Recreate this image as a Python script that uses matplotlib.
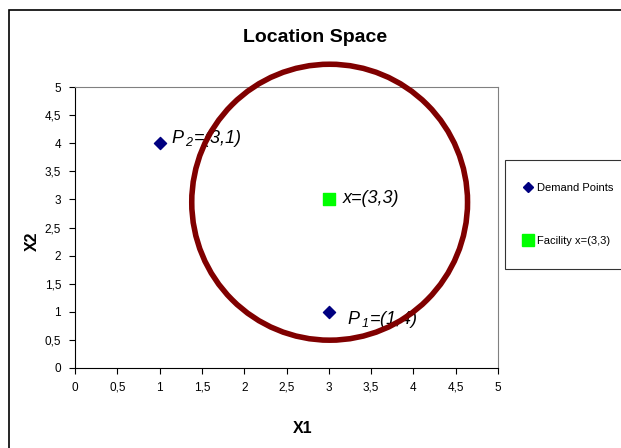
import matplotlib
matplotlib.use('Agg')
import matplotlib.pyplot as plt
from matplotlib.patches import Ellipse, Rectangle
from matplotlib.lines import Line2D

plt.rcParams['font.family'] = ['Liberation Sans', 'DejaVu Sans']
plt.rcParams['mathtext.fontset'] = 'custom'
plt.rcParams['mathtext.it'] = 'Liberation Sans:italic'
plt.rcParams['mathtext.rm'] = 'Liberation Sans:italic'
plt.rcParams['mathtext.default'] = 'it'

# demand points and facility
demand_x = [3, 1]
demand_y = [1, 4]
demand_labels = [r'$P_{\;1}$=(1,4)', r'$P_{\;2}$=(3,1)']
facility_x = [3]
facility_y = [3]
facility_label = 'x=(3,3)'
ticks = [0, 0.5, 1, 1.5, 2, 2.5, 3, 3.5, 4, 4.5, 5]
tick_labels = ['0', '0,5', '1', '1,5', '2', '2,5', '3', '3,5', '4', '4,5', '5']

fig = plt.figure(figsize=(6.21, 4.48), dpi=100)
fig.patch.set_facecolor('white')

# outer chart frame
fig.patches.append(Rectangle((9 / 621, -0.1), 1.2, 1 - 10 / 448 + 0.1,
                             transform=fig.transFigure, fill=False,
                             edgecolor='black', linewidth=1.2))

ax = fig.add_axes([75 / 621, 1 - 368 / 448, 423 / 621, 281 / 448])
ax.set_xlim(0, 5)
ax.set_ylim(0, 5)
ax.set_xticks(ticks)
ax.set_xticklabels(tick_labels)
ax.set_yticks(ticks)
ax.set_yticklabels(tick_labels)
ax.tick_params(direction='out', length=4, width=0.8, labelsize=8.5, pad=6)
for s in ['top', 'right']:
    ax.spines[s].set_color('#808080')
for s in ['left', 'bottom']:
    ax.spines[s].set_color('black')

ax.scatter(demand_x, demand_y, marker='D', s=38, color='#000080', zorder=3)
ax.scatter(facility_x, facility_y, marker='s', s=75, color='#00FF00', zorder=3)

# circle around the facility (round on screen)
circ = Ellipse((3.01, 2.95), 3.26, 4.91, fill=False, edgecolor='#800000',
               linewidth=4, clip_on=False, zorder=4)
ax.add_patch(circ)

ax.text(3.22, 0.86, demand_labels[0], fontsize=13, style='italic', va='center', zorder=3)
ax.text(1.14, 4.08, demand_labels[1], fontsize=13, style='italic', va='center', zorder=3)
ax.text(3.16, 3.02, facility_label, fontsize=13, style='italic', va='center', zorder=3)

fig.text(315 / 621, 1 - 38 / 448, 'Location Space', fontsize=14, fontweight='bold',
         ha='center', va='center')
fig.text(303 / 621, 1 - 428 / 448, 'X1', fontsize=11.5, fontweight='bold',
         ha='center', va='center')
fig.text(32 / 621, 1 - 241 / 448, 'X2', fontsize=11.5, fontweight='bold',
         ha='center', va='center', rotation=90)

handles = [Line2D([], [], marker='D', color='#000080', linestyle='none', markersize=5),
           Line2D([], [], marker='s', color='#00FF00', linestyle='none', markersize=8)]
leg = fig.legend(handles, ['Demand Points', 'Facility x=(3,3)'], loc='upper left',
                 bbox_to_anchor=(505 / 621, 1 - 160 / 448), fontsize=8,
                 labelspacing=3.9, borderpad=2.05, handletextpad=0.75,
                 handlelength=0.1, frameon=True, fancybox=False,
                 edgecolor='black', borderaxespad=0)
leg.get_frame().set_linewidth(0.8)

fig.savefig('out.png', dpi=100)
